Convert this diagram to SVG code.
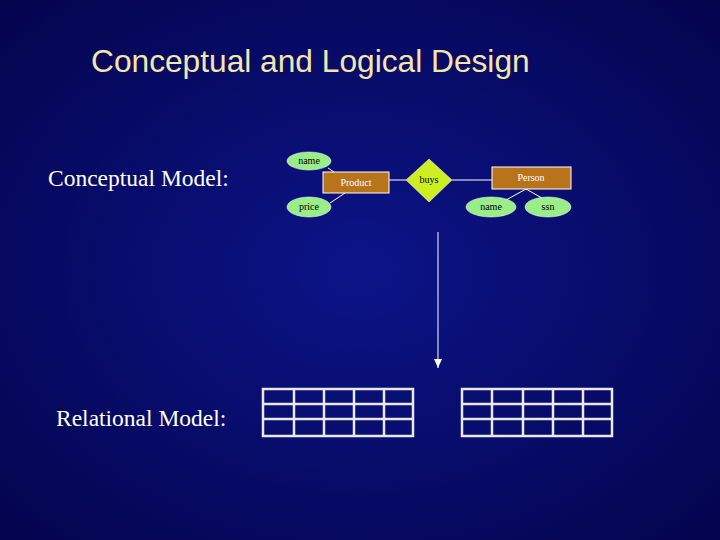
<svg xmlns="http://www.w3.org/2000/svg" width="720" height="540" viewBox="0 0 720 540">
<defs>
<radialGradient id="bg" cx="0.5" cy="0.5" r="0.7">
<stop offset="0" stop-color="#0c1488"/>
<stop offset="1" stop-color="#04044e"/>
</radialGradient>
<marker id="ah" markerWidth="10" markerHeight="10" refX="9" refY="5" orient="auto" markerUnits="userSpaceOnUse"><path d="M0,1 L9,5 L0,9 Z" fill="#fff"/></marker>
</defs>
<style>
.att{fill:#99ee88;stroke:#ffffff;stroke-width:0.5}
.ent{fill:#b8741a;stroke:#ffffff;stroke-width:1}
.t{font-family:"Liberation Serif",serif;font-size:10px;fill:#000;text-anchor:middle}
.et{font-family:"Liberation Serif",serif;font-size:10px;fill:#fff;text-anchor:middle}
.ln{stroke:#ffffff;stroke-width:1;fill:none}
.big{font-family:"Liberation Serif",serif;font-size:23.5px;fill:#fff}
.tb{stroke:#e8e8f8;stroke-width:2.5;fill:none}
</style>
<rect width="720" height="540" fill="url(#bg)"/>
<text x="91" y="72" font-family="Liberation Sans,sans-serif" font-size="31.7" fill="#f4e6a8">Conceptual and Logical Design</text>
<text class="big" x="48" y="186">Conceptual Model:</text>
<text class="big" x="56" y="426">Relational Model:</text>
<g id="connectors">
<line class="ln" x1="328" y1="168" x2="334" y2="172"/>
<line class="ln" x1="330" y1="203" x2="345" y2="193"/>
<line class="ln" x1="389" y1="180" x2="406" y2="180"/>
<line class="ln" x1="452" y1="180" x2="492" y2="180"/>
<line class="ln" x1="526" y1="189" x2="506" y2="200"/>
<line class="ln" x1="526" y1="189" x2="542" y2="198"/>
<line class="ln" x1="438" y1="232" x2="438" y2="368" marker-end="url(#ah)"/>
</g>
<g id="name1"><ellipse class="att" cx="309" cy="161" rx="22" ry="9"/><text class="t" x="309" y="164">name</text></g>
<g id="product"><rect class="ent" x="323" y="172" width="66" height="21"/><text class="et" x="356" y="186">Product</text></g>
<g id="price"><ellipse class="att" cx="309" cy="207" rx="22" ry="10"/><text class="t" x="309" y="210">price</text></g>
<g id="buys"><polygon points="429,159 452,180 429,202 406,180" fill="#ccee22" stroke="#fff" stroke-width="0.5"/><text class="t" x="429" y="183">buys</text></g>
<g id="person"><rect class="ent" x="492" y="167" width="79" height="22"/><text class="et" x="531" y="181">Person</text></g>
<g id="name2"><ellipse class="att" cx="491" cy="207" rx="25" ry="10"/><text class="t" x="491" y="210">name</text></g>
<g id="ssn"><ellipse class="att" cx="548" cy="207" rx="23" ry="10"/><text class="t" x="548" y="210">ssn</text></g>
<g id="table1" class="tb">
<rect x="263" y="389" width="150" height="47"/>
<path d="M294,389V436M324,389V436M354,389V436M384,389V436M263,404H413M263,419H413"/>
</g>
<g id="table2" class="tb">
<rect x="462" y="389" width="150" height="47"/>
<path d="M492,389V436M523,389V436M553,389V436M583,389V436M462,404H612M462,419H612"/>
</g>
</svg>
